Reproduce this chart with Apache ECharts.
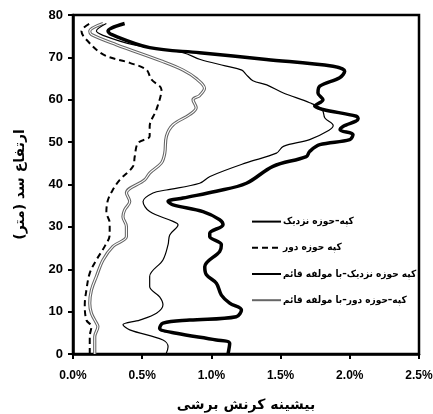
<!DOCTYPE html>
<html><head><meta charset="utf-8">
<script src="https://cdn.jsdelivr.net/npm/echarts@6/dist/echarts.min.js"></script>
<style>html,body{margin:0;padding:0;background:#fff}#c{width:433px;height:414px}</style>
</head><body><div id="c"></div>
<script>
// [shear strain %, height m]
const nearCore = [[0.672,0],[0.687,1.7],[0.65,3.3],[0.41,5.7],[0.361,6.9],[0.482,8],[0.603,9.6],[0.65,11.6],[0.626,13.5],[0.554,15.9],[0.554,18.3],[0.65,22.2],[0.687,25.8],[0.699,28.1],[0.759,30.5],[0.723,31.3],[0.554,33.6],[0.506,36],[0.578,38],[0.674,38.7],[0.915,40.3],[0.99,41.9],[1.25,45.1],[1.47,47.4],[1.52,49],[1.71,50.6],[1.85,52.8],[1.88,53.9],[1.82,55.7],[1.80,57.7],[1.71,59.3],[1.52,61.6],[1.40,63.5],[1.30,64.5],[1.25,66],[1.22,67],[1.1,68],[0.92,69.5],[0.795,71.1],[0.434,73],[0.217,75.2],[0.169,76.2],[0.241,78]];
const farCore = [[0.121,0],[0.121,4.1],[0.133,6.5],[0.097,8],[0.085,11.6],[0.097,15.1],[0.121,19.1],[0.169,22.2],[0.229,25.4],[0.265,28.1],[0.265,30.9],[0.241,33.5],[0.253,36.4],[0.289,38.8],[0.338,41.1],[0.434,44.3],[0.446,46.6],[0.47,49.8],[0.554,51.4],[0.554,53.7],[0.603,57.7],[0.639,62.4],[0.566,64.8],[0.53,67.1],[0.41,68.7],[0.217,70.7],[0.085,74.6],[0.061,76.2],[0.121,78]];
const nearCoreVert = [[1.12,0],[1.132,2.5],[1.036,3.3],[0.747,4.9],[0.626,6.1],[0.65,7.3],[0.843,8],[1.18,8.8],[1.217,10.4],[1.132,12],[1.072,13.9],[1.036,16.7],[0.964,18.7],[0.952,20.6],[1.06,24.2],[1.072,25.8],[0.988,27.7],[0.988,28.5],[1.084,30.5],[1.06,31.7],[0.939,33.6],[0.723,35.2],[0.687,36],[0.795,36.8],[1.036,38.4],[1.253,40.3],[1.445,44.3],[1.686,46.6],[1.71,47.8],[1.783,49.4],[2.0,50.6],[2.023,51.8],[1.93,52.9],[1.951,53.7],[2.06,55.5],[2.048,56.1],[1.806,57.7],[1.746,58.5],[1.806,60],[1.77,61.6],[1.783,63.2],[1.927,65.2],[1.963,66.7],[1.879,67.9],[1.397,69.5],[0.915,71.1],[0.554,72.3],[0.277,75.4],[0.253,76.2],[0.373,78]];
const farCoreVert = [[0.157,0],[0.157,4.1],[0.18,6.5],[0.169,7.3],[0.133,9.6],[0.121,12],[0.133,15.1],[0.169,18.3],[0.217,22.2],[0.289,25.4],[0.386,27.7],[0.386,30.1],[0.361,32.4],[0.373,34],[0.41,36],[0.386,38],[0.518,41.1],[0.554,42.7],[0.639,45.1],[0.663,47.4],[0.675,51.4],[0.723,54.1],[0.843,56.5],[0.89,58.1],[0.867,60],[0.915,61],[0.95,62.7],[0.89,65],[0.795,67],[0.65,69],[0.313,73],[0.133,75.4],[0.121,76.2],[0.217,78]];
const names = ['کپه–حوزه نزدیک','کپه حوزه دور','کپه حوزه نزدیک–با مولفه قائم','کپه–حوزه دور–با مولفه قائم'];
const xTicks = [0, 0.5, 1.0, 1.5, 2.0, 2.5];
const yTicks = [0, 10, 20, 30, 40, 50, 60, 70, 80];

const chart = echarts.init(document.getElementById('c'), null, {renderer:'canvas'});
const lab = {fontFamily:'Liberation Sans, Arial, sans-serif', fontWeight:'bold', color:'#000'};
const sm = 0.35;
chart.setOption({
  animation:false,
  backgroundColor:'#fff',
  grid:{left:73, right:14, top:15, bottom:60, show:true, borderColor:'#000', borderWidth:2.5, backgroundColor:'transparent', outerBoundsMode:'none', containLabel:false},
  legend:{
    data:names, orient:'vertical', left:246, top:211, itemWidth:29, itemHeight:14, itemGap:15,
    itemStyle:{opacity:0},
    textStyle:{fontFamily:'DejaVu Sans Condensed, DejaVu Sans, sans-serif', fontWeight:'bold', fontSize:10, color:'#000', padding:[0,0,0,-3]}
  },
  xAxis:{type:'value', min:0, max:2.5, interval:0.5,
    axisLine:{show:true, lineStyle:{color:'#000', width:2.5}},
    axisTick:{show:true, inside:false, length:5, lineStyle:{color:'#000', width:2}},
    splitLine:{show:false},
    axisLabel:Object.assign({margin:16, fontSize:12, formatter:v=>v.toFixed(1)+'%'}, lab),
    name:'بیشینه کرنش برشی', nameLocation:'middle', nameGap:44,
    nameTextStyle:{fontFamily:'DejaVu Sans, sans-serif', fontWeight:'bold', fontSize:14, color:'#000'}
  },
  yAxis:{type:'value', min:0, max:80, interval:10,
    axisLine:{show:true, lineStyle:{color:'#000', width:2.5}},
    axisTick:{show:true, inside:false, length:5, lineStyle:{color:'#000', width:2}},
    splitLine:{show:false},
    axisLabel:Object.assign({margin:10, fontSize:13}, lab),
    name:'ارتفاع سد (متر)', nameLocation:'middle', nameGap:46, nameRotate:90,
    nameTextStyle:{fontFamily:'DejaVu Sans, sans-serif', fontWeight:'bold', fontSize:14, color:'#000'}
  },
  series:[
    {name:names[3], type:'line', data:farCoreVert, smooth:sm, symbol:'none', lineStyle:{color:'#666', width:3.2}, itemStyle:{color:'#888'}, z:2},
    {name:'_inner', type:'line', data:farCoreVert, smooth:sm, symbol:'none', lineStyle:{color:'#fff', width:1.1}, z:3},
    {name:names[1], type:'line', data:farCore, smooth:sm, symbol:'none', lineStyle:{color:'#000', width:2, type:[6,4]}, itemStyle:{color:'#000'}, z:4},
    {name:names[0], type:'line', data:nearCore, smooth:sm, symbol:'none', lineStyle:{color:'#000', width:1.2}, itemStyle:{color:'#000'}, z:5},
    {name:names[2], type:'line', data:nearCoreVert, smooth:sm, symbol:'none', lineStyle:{color:'#000', width:3.5}, itemStyle:{color:'#000'}, z:6}
  ]
});
</script></body></html>
